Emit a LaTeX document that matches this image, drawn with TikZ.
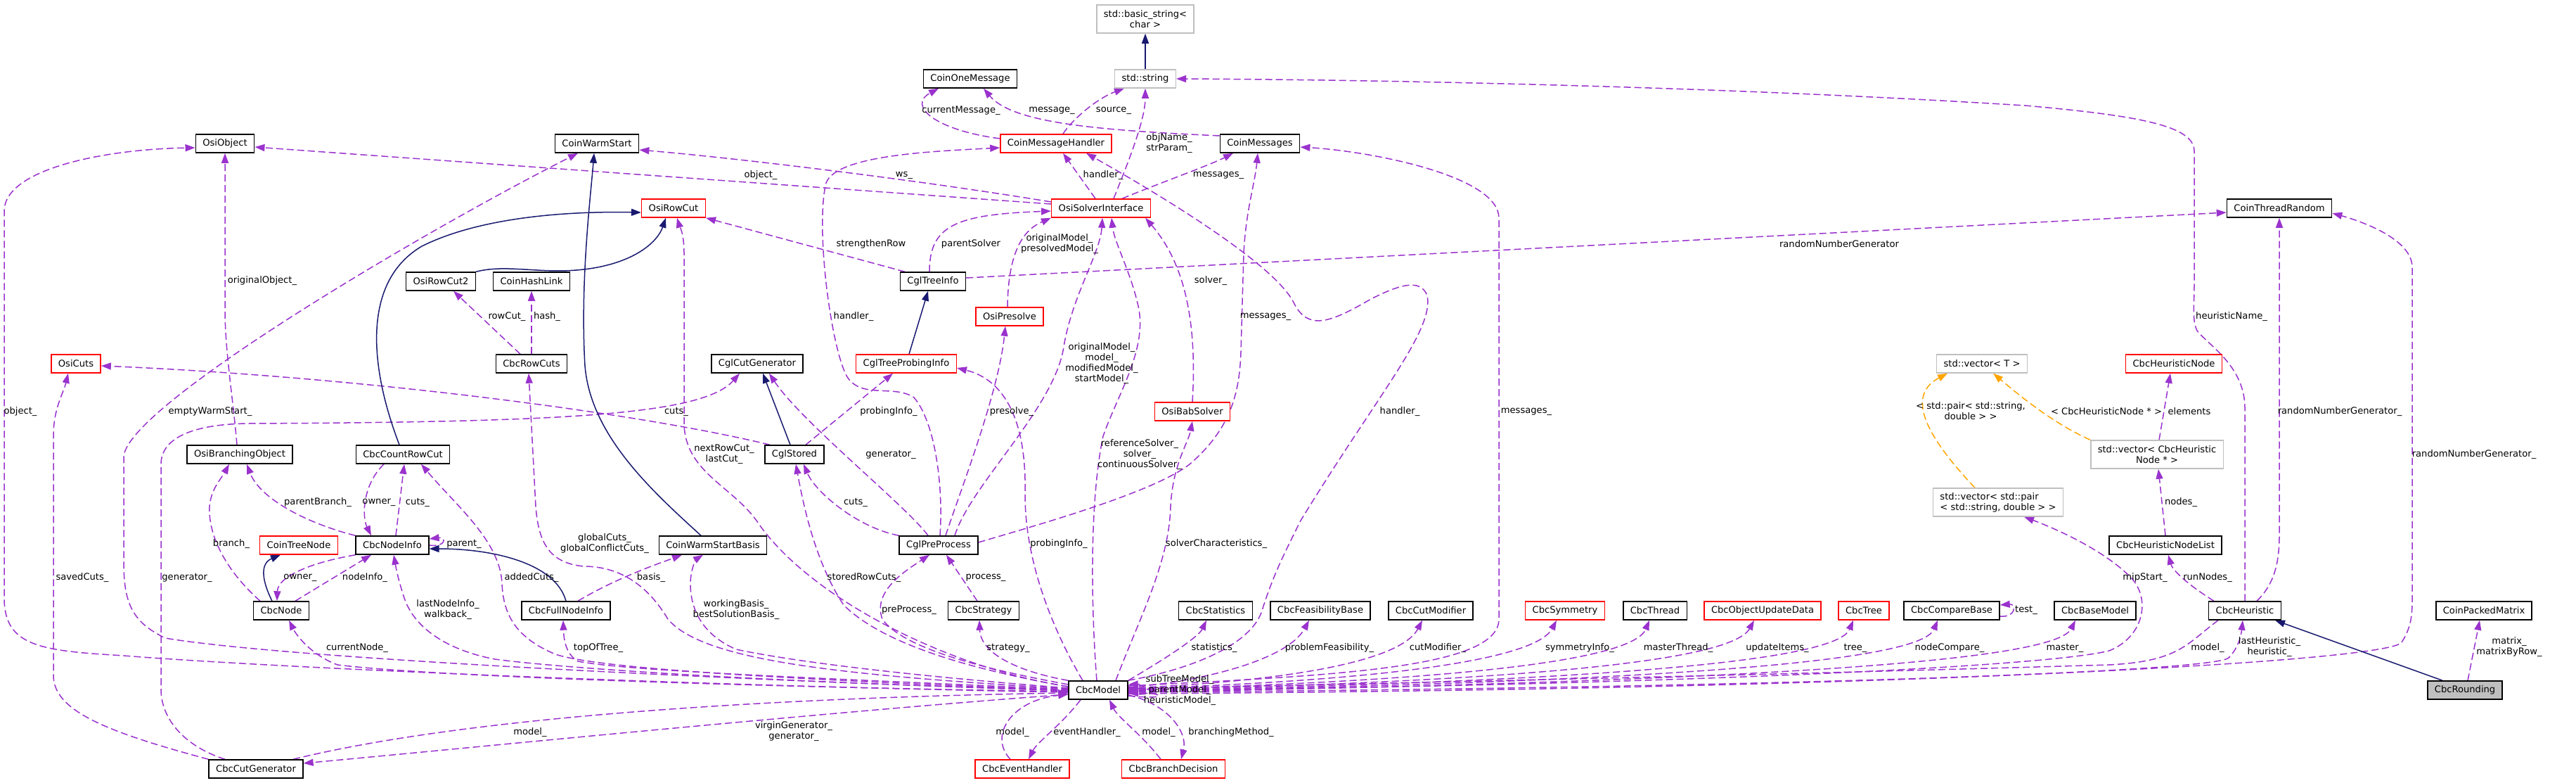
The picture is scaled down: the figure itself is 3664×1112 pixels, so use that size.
\documentclass[tikz,border=0pt]{standalone}
\usepackage{fontspec}
\setmainfont{DejaVu Sans}
\usetikzlibrary{arrows.meta}
\definecolor{purp}{HTML}{9A32CD}
\definecolor{navyb}{HTML}{191970}
\definecolor{orng}{HTML}{FFA500}
\definecolor{grayb}{HTML}{BFBFBF}
\newcommand\dfont{\fontsize{13.1pt}{15pt}\selectfont}
\pgfdeclarelayer{bg}
\pgfsetlayers{bg,main}
\tikzset{
 cbox/.style={draw=black, line width=1.5pt, fill=white, minimum height=26pt, inner xsep=10pt, inner ysep=2pt, font=\dfont},
 rcbox/.style={cbox, draw=red},
 gcbox/.style={cbox, draw=grayb},
 twol/.style={align=center, minimum height=40pt},
 uedge/.style={draw=purp, line width=1.5pt, dash pattern=on 10pt off 5pt, -{Triangle[length=14pt,width=10pt]}},
 iedge/.style={draw=navyb, line width=1.5pt, -{Triangle[length=14pt,width=10pt]}},
 tedge/.style={draw=orng, line width=1.5pt, dash pattern=on 10pt off 5pt, -{Triangle[length=14pt,width=10pt]}},
 lb/.style={font=\dfont, inner sep=0pt, align=center},
}
\begin{document}
\begin{tikzpicture}[x=1pt,y=-1pt]
\useasboundingbox (0,0) rectangle (3664,1112);
% nodes
\node[gcbox,twol] (basicstr) at (1629,27) {std::basic\_string<\\char >};
\node[gcbox] (stdstring) at (1629,112) {std::string};
\node[cbox] (oneMsg) at (1380,112) {CoinOneMessage};
\node[cbox] (osiObject) at (320,204) {OsiObject};
\node[cbox] (warmStart) at (849,204) {CoinWarmStart};
\node[rcbox] (msgHandler) at (1502,204) {CoinMessageHandler};
\node[cbox] (coinMessages) at (1792,204) {CoinMessages};
\node[rcbox] (osiRowCut) at (958,296) {OsiRowCut};
\node[rcbox] (osiSI) at (1566,296) {OsiSolverInterface};
\node[cbox] (threadRandom) at (3242,296) {CoinThreadRandom};
\node[cbox] (osiRowCut2) at (627,400) {OsiRowCut2};
\node[cbox] (hashLink) at (756,400) {CoinHashLink};
\node[cbox] (cglTreeInfo) at (1327,400) {CglTreeInfo};
\node[rcbox] (osiPresolve) at (1436,450) {OsiPresolve};
\node[rcbox] (osiCuts) at (108,517) {OsiCuts};
\node[cbox] (cbcRowCuts) at (756,517) {CbcRowCuts};
\node[cbox] (cglCutGen) at (1077,517) {CglCutGenerator};
\node[rcbox] (cglTPI) at (1289,517) {CglTreeProbingInfo};
\node[gcbox] (vecT) at (2819,517) {std::vector< T >};
\node[rcbox] (heurNode) at (3092,517) {CbcHeuristicNode};
\node[rcbox] (osiBabSolver) at (1696,585) {OsiBabSolver};
\node[cbox] (osiBranchObj) at (341,646) {OsiBranchingObject};
\node[cbox] (countRowCut) at (573,646) {CbcCountRowCut};
\node[cbox] (cglStored) at (1130,646) {CglStored};
\node[gcbox,twol] (vecHN) at (3068,646) {std::vector< CbcHeuristic\\Node * >};
\node[gcbox,twol,align=left] (vecPair) at (2842,714) {std::vector< std::pair\\< std::string, double > >};
\node[rcbox] (coinTreeNode) at (425,775) {CoinTreeNode};
\node[cbox] (cbcNodeInfo) at (558,775) {CbcNodeInfo};
\node[cbox] (warmStartBasis) at (1014,775) {CoinWarmStartBasis};
\node[cbox] (cglPreProcess) at (1335,775) {CglPreProcess};
\node[cbox] (heurNodeList) at (3080,775) {CbcHeuristicNodeList};
\node[cbox] (cbcNode) at (400,868) {CbcNode};
\node[cbox] (fullNodeInfo) at (805,868) {CbcFullNodeInfo};
\node[cbox] (cbcStrategy) at (1399,868) {CbcStrategy};
\node[cbox] (cbcStatistics) at (1729,868) {CbcStatistics};
\node[cbox] (feasBase) at (1878,868) {CbcFeasibilityBase};
\node[cbox] (cutModifier) at (2035,868) {CbcCutModifier};
\node[rcbox] (symmetry) at (2226,868) {CbcSymmetry};
\node[cbox] (thread) at (2354,868) {CbcThread};
\node[rcbox] (objUpd) at (2507,868) {CbcObjectUpdateData};
\node[rcbox] (cbcTree) at (2651,868) {CbcTree};
\node[cbox] (compareBase) at (2776,868) {CbcCompareBase};
\node[cbox] (baseModel) at (2980,868) {CbcBaseModel};
\node[cbox] (cbcHeuristic) at (3193,868) {CbcHeuristic};
\node[cbox] (packedMatrix) at (3533,868) {CoinPackedMatrix};
\node[cbox] (cbcModel) at (1562,981) {CbcModel};
\node[cbox,fill=grayb] (cbcRounding) at (3506,981) {CbcRounding};
\node[cbox] (cutGenerator) at (364,1093) {CbcCutGenerator};
\node[rcbox] (eventHandler) at (1454,1093) {CbcEventHandler};
\node[rcbox] (branchDecision) at (1669,1093) {CbcBranchDecision};
% labels
\node[lb] (l01) at (1367,157) {currentMessage\_};
\node[lb] (l02) at (1496,157) {message\_};
\node[lb] (l03) at (1584,157) {source\_};
\node[lb] (l04) at (1663,204) {objName\_\\strParam\_};
\node[lb] (l05) at (1569,249) {handler\_};
\node[lb] (l06) at (1733,249) {messages\_};
\node[lb] (l07) at (1082,249) {object\_};
\node[lb] (l08) at (1286,249) {ws\_};
\node[lb] (l09) at (1239,347) {strengthenRow};
\node[lb] (l10) at (1381,347) {parentSolver};
\node[lb] (l11) at (1507,347) {originalModel\_\\presolvedModel\_};
\node[lb] (l12) at (2616,347) {randomNumberGenerator};
\node[lb] (l13) at (1722,399) {solver\_};
\node[lb] (l14) at (373,399) {originalObject\_};
\node[lb] (l15) at (721,450) {rowCut\_};
\node[lb] (l16) at (778,450) {hash\_};
\node[lb] (l17) at (1214,450) {handler\_};
\node[lb] (l18) at (1800,450) {messages\_};
\node[lb] (l19) at (3174,450) {heuristicName\_};
\node[lb] (l20) at (1567,517) {originalModel\_\\model\_\\modifiedModel\_\\startModel\_};
\node[lb] (l21) at (29,585) {object\_};
\node[lb] (l22) at (299,585) {emptyWarmStart\_};
\node[lb] (l23) at (962,585) {cuts\_};
\node[lb] (l24) at (1264,585) {probingInfo\_};
\node[lb] (l25) at (1439,585) {presolve\_};
\node[lb] (l26) at (1991,585) {handler\_};
\node[lb] (l27) at (2171,585) {messages\_};
\node[lb] (l28) at (2803,584) {< std::pair< std::string,\\double > >};
\node[lb] (l29) at (2996,585) {< CbcHeuristicNode * >};
\node[lb] (l30) at (3114,585) {elements};
\node[lb] (l31) at (3328,585) {randomNumberGenerator\_};
\node[lb] (l32) at (1030,646) {nextRowCut\_\\lastCut\_};
\node[lb] (l33) at (1267,646) {generator\_};
\node[lb] (l34) at (1621,646) {referenceSolver\_\\solver\_\\continuousSolver\_};
\node[lb] (l35) at (3519,646) {randomNumberGenerator\_};
\node[lb] (l36) at (452,714) {parentBranch\_};
\node[lb] (l37) at (539,714) {owner\_};
\node[lb] (l38) at (594,714) {cuts\_};
\node[lb] (l39) at (1217,714) {cuts\_};
\node[lb] (l40) at (3102,714) {nodes\_};
\node[lb] (l41) at (329,773) {branch\_};
\node[lb] (l42) at (660,773) {parent\_};
\node[lb] (l43) at (860,773) {globalCuts\_\\globalConflictCuts\_};
\node[lb] (l44) at (1506,773) {probingInfo\_};
\node[lb] (l45) at (1730,773) {solverCharacteristics\_};
\node[lb] (l46) at (117,821) {savedCuts\_};
\node[lb] (l47) at (266,821) {generator\_};
\node[lb] (l48) at (427,821) {owner\_};
\node[lb] (l49) at (519,821) {nodeInfo\_};
\node[lb] (l50) at (756,821) {addedCuts\_};
\node[lb] (l51) at (926,821) {basis\_};
\node[lb] (l52) at (1229,821) {storedRowCuts\_};
\node[lb] (l53) at (1402,821) {process\_};
\node[lb] (l54) at (3051,821) {mipStart\_};
\node[lb] (l55) at (3140,821) {runNodes\_};
\node[lb] (l56) at (637,867) {lastNodeInfo\_\\walkback\_};
\node[lb] (l57) at (1047,867) {workingBasis\_\\bestSolutionBasis\_};
\node[lb] (l58) at (1293,867) {preProcess\_};
\node[lb] (l59) at (2882,867) {test\_};
\node[lb] (l60) at (508,921) {currentNode\_};
\node[lb] (l61) at (851,921) {topOfTree\_};
\node[lb] (l62) at (1434,921) {strategy\_};
\node[lb] (l63) at (1727,921) {statistics\_};
\node[lb] (l64) at (1891,921) {problemFeasibility\_};
\node[lb] (l65) at (2045,921) {cutModifier\_};
\node[lb] (l66) at (2247,921) {symmetryInfo\_};
\node[lb] (l67) at (2387,921) {masterThread\_};
\node[lb] (l68) at (2528,921) {updateItems\_};
\node[lb] (l69) at (2639,921) {tree\_};
\node[lb] (l70) at (2773,921) {nodeCompare\_};
\node[lb] (l71) at (2937,921) {master\_};
\node[lb] (l72) at (3140,921) {model\_};
\node[lb] (l73) at (3228,920) {lastHeuristic\_\\heuristic\_};
\node[lb] (l74) at (3569,920) {matrix\_\\matrixByRow\_};
\node[lb] (l75) at (1678,981) {subTreeModel\_\\parentModel\_\\heuristicModel\_};
\node[lb] (l76) at (1129,1040) {virginGenerator\_\\generator\_};
\node[lb] (l77) at (754,1041) {model\_};
\node[lb] (l78) at (1440,1041) {model\_};
\node[lb] (l79) at (1546,1041) {eventHandler\_};
\node[lb] (l80) at (1648,1041) {model\_};
\node[lb] (l81) at (1751,1041) {branchingMethod\_};
% edges
\begin{pgfonlayer}{bg}
\draw[iedge] (stdstring.north) -- (basicstr.south);
\draw[uedge] ([yshift=7pt]msgHandler.west) .. controls (1330,185) and (1290,150) .. ([xshift=-45pt]oneMsg.south);
\draw[uedge] ([yshift=11pt]coinMessages.west) .. controls (1560,185) and (1440,175) .. ([xshift=19pt]oneMsg.south);
\draw[uedge] ([xshift=10pt]msgHandler.north) .. controls (1525,170) and (1560,140) .. ([xshift=-30pt]stdstring.south);
\draw[uedge] ([xshift=18pt]osiSI.north) .. controls (1605,230) and (1629,170) .. (stdstring.south);
\draw[uedge] ([xshift=-8pt]osiSI.north) -- ([xshift=10pt]msgHandler.south);
\draw[uedge] ([xshift=30pt]osiSI.north) .. controls (1650,260) and (1720,235) .. ([xshift=-38pt]coinMessages.south);
\draw[uedge] ([yshift=6pt]osiSI.west) -- ([yshift=-5pt]osiObject.east);
\draw[uedge] ([yshift=9pt]osiSI.west) .. controls (1300,255) and (1050,225) .. ([yshift=-9pt]warmStart.east);
\draw[uedge] ([xshift=-40pt]cglTreeInfo.north) -- (osiRowCut.south east);
\draw[uedge] ([xshift=-5pt]cglTreeInfo.north) .. controls (1322,320) and (1360,305) .. ([yshift=-4pt]osiSI.west);
\draw[uedge] ([xshift=-3pt]osiPresolve.north) .. controls (1434,350) and (1460,325) .. (osiSI.south west);
\draw[uedge] ([xshift=23pt]cglPreProcess.north) .. controls (1380,690) and (1500,580) .. (1513,493) .. controls (1525,420) and (1565,360) .. ([xshift=2pt]osiSI.south);
\draw[uedge] ([xshift=-2pt]cbcModel.north) .. controls (1553,880) and (1548,720) .. (1569,620) .. controls (1590,560) and (1630,500) .. (1620,440) .. controls (1610,390) and (1585,345) .. ([xshift=15pt]osiSI.south);
\draw[uedge] (osiBabSolver.north) .. controls (1702,470) and (1690,380) .. ([xshift=-8pt]osiSI.south east);
\draw[uedge] ([xshift=2pt]cglPreProcess.north) .. controls (1342,690) and (1330,600) .. (1300,565) .. controls (1270,545) and (1220,570) .. (1202,530) .. controls (1180,480) and (1160,320) .. (1175,260) .. controls (1190,220) and (1330,215) .. ([yshift=-6pt]msgHandler.west);
\draw[uedge] ([xshift=16pt]cglStored.north) -- ([xshift=-19pt]cglTPI.south);
\draw[uedge] ([xshift=10pt]cglPreProcess.north) .. controls (1365,700) and (1420,560) .. ([xshift=-6pt]osiPresolve.south);
\draw[uedge] ([xshift=-15pt]cglPreProcess.north) .. controls (1290,720) and (1140,600) .. ([xshift=17pt]cglCutGen.south);
\draw[uedge] (cglPreProcess.north west) .. controls (1220,750) and (1160,700) .. ([xshift=13pt]cglStored.south);
\draw[iedge] ([xshift=4pt]cglTPI.north) -- ([xshift=-7pt]cglTreeInfo.south);
\draw[iedge] ([xshift=-6pt]cglStored.north) -- ([xshift=8pt]cglCutGen.south);
\draw[uedge] ([yshift=5pt]cbcModel.west) .. controls (1350,950) and (1150,850) .. (1076,740) .. controls (1040,690) and (973,670) .. (973,600) -- (973,360) .. controls (973,330) and (966,320) .. ([xshift=5pt]osiRowCut.south);
% CbcModel left side
\draw[uedge] ([yshift=-3pt]cbcModel.west) .. controls (1000,975) and (400,950) .. (176,932) .. controls (60,925) and (6,920) .. (6,850) -- (6,300) .. controls (6,240) and (150,212) .. ([yshift=-6pt]osiObject.west);
\draw[uedge] ([yshift=-1pt]cbcModel.west) .. controls (1000,965) and (400,935) .. (235,907) .. controls (190,885) and (176,860) .. (176,800) -- (176,650) .. controls (176,580) and (600,330) .. ([xshift=-27pt]warmStart.south);
\draw[uedge] ([xshift=-44pt]cutGenerator.north) .. controls (260,1060) and (229,1020) .. (229,980) -- (229,660) .. controls (229,620) and (280,603) .. (352,602) .. controls (800,600) and (1000,590) .. ([xshift=-25pt]cglCutGen.south);
\draw[uedge] (cutGenerator.north west) .. controls (150,1040) and (76,1010) .. (76,960) -- (76,620) .. controls (76,580) and (90,560) .. ([xshift=-11pt]osiCuts.south);
\draw[uedge] ([xshift=-35pt]cglStored.north) .. controls (900,585) and (500,535) .. ([yshift=-3pt]osiCuts.east);
\draw[uedge] ([yshift=2pt]cbcModel.west) .. controls (1200,960) and (1000,940) .. (950,880) .. controls (920,830) and (880,805) .. (830,805) .. controls (780,800) and (766,770) .. (762,720) -- ([xshift=-4pt]cbcRowCuts.south);
\draw[uedge] (cbcModel.west) .. controls (1100,965) and (850,950) .. (790,930) .. controls (730,905) and (716,870) .. (714,830) .. controls (712,770) and (650,720) .. ([xshift=26pt]countRowCut.south);
\draw[uedge] ([yshift=-2pt]cbcModel.west) .. controls (1000,975) and (600,960) .. (480,945) .. controls (440,930) and (420,900) .. ([xshift=11pt]cbcNode.south);
\draw[uedge] (cbcModel.west) .. controls (1100,970) and (800,950) .. (704,937) .. controls (640,925) and (590,895) .. (575,850) .. controls (565,820) and (562,800) .. ([xshift=2pt]cbcNodeInfo.south);
\draw[uedge] ([yshift=1pt]cbcModel.west) .. controls (1200,965) and (900,955) .. (822,940) .. controls (805,930) and (802,910) .. ([xshift=-4pt]fullNodeInfo.south);
\draw[uedge] ([yshift=3pt]cbcModel.west) .. controls (1350,965) and (1150,945) .. (1047,923) .. controls (994,900) and (982,860) .. (982,830) .. controls (982,810) and (990,795) .. ([xshift=-14pt]warmStartBasis.south);
\draw[uedge] ([yshift=5pt]cbcModel.west) .. controls (1400,955) and (1260,920) .. (1200,860) .. controls (1160,800) and (1143,720) .. ([xshift=2pt]cglStored.south);
\draw[uedge] ([yshift=8pt]cbcModel.west) .. controls (1450,960) and (1290,930) .. (1255,880) .. controls (1240,840) and (1290,810) .. ([xshift=-13pt]cglPreProcess.south);
\draw[uedge] (cbcModel.north west) .. controls (1450,955) and (1395,930) .. ([xshift=-6pt]cbcStrategy.south);
\draw[uedge] ([xshift=-9pt]cbcStrategy.north) -- ([xshift=11pt]cglPreProcess.south);
\draw[uedge] ([xshift=-22pt]cbcModel.north) .. controls (1500,900) and (1457,800) .. (1458,700) .. controls (1460,600) and (1430,540) .. ([yshift=-6pt]cglTPI.east);
\draw[uedge] ([xshift=25pt]cbcModel.north) .. controls (1620,880) and (1663,800) .. (1665,720) .. controls (1668,660) and (1690,630) .. (osiBabSolver.south);
\draw[uedge] ([yshift=-6pt]cbcModel.west) .. controls (1200,1010) and (700,1060) .. ([yshift=8pt]cutGenerator.east);
\draw[uedge] ([xshift=53pt]cutGenerator.north) .. controls (700,1010) and (1200,990) .. ([yshift=-4pt]cbcModel.west);
% CbcModel right side
\draw[uedge] (cbcModel.north east) .. controls (1700,950) and (1780,915) .. (1795,868) .. controls (1810,820) and (1825,790) .. (1850,740) .. controls (1960,560) and (2040,470) .. (2030,420) .. controls (2020,395) and (1990,405) .. (1950,425) .. controls (1890,460) and (1860,470) .. (1840,430) .. controls (1810,370) and (1620,260) .. ([xshift=43pt]msgHandler.south);
\draw[uedge] ([yshift=6pt]cbcModel.east) .. controls (1900,960) and (2132,950) .. (2132,880) -- (2132,310) .. controls (2132,250) and (1950,215) .. ([yshift=-5pt]coinMessages.east);
\draw[uedge] ([yshift=4pt]cbcModel.east) .. controls (1700,970) and (1830,940) .. ([xshift=-16pt]feasBase.south);
\draw[uedge] ([yshift=3pt]cbcModel.east) .. controls (1800,970) and (1990,945) .. ([xshift=-12pt]cutModifier.south);
\draw[uedge] ([yshift=2pt]cbcModel.east) .. controls (1900,970) and (2180,945) .. ([xshift=-12pt]symmetry.south);
\draw[uedge] ([yshift=1pt]cbcModel.east) .. controls (2000,970) and (2320,945) .. ([xshift=-8pt]thread.south);
\draw[uedge] (cbcModel.east) .. controls (2100,970) and (2460,945) .. ([xshift=-12pt]objUpd.south);
\draw[uedge] ([yshift=-1pt]cbcModel.east) .. controls (2200,970) and (2610,945) .. ([xshift=-15pt]cbcTree.south);
\draw[uedge] ([yshift=-2pt]cbcModel.east) .. controls (2300,970) and (2730,945) .. ([xshift=-20pt]compareBase.south);
\draw[uedge] ([yshift=-3pt]cbcModel.east) .. controls (2400,970) and (2920,945) .. ([xshift=-28pt]baseModel.south);
\draw[uedge] ([yshift=-1pt]cbcModel.east) .. controls (2300,975) and (2900,950) .. (3000,925) .. controls (3050,905) and (3060,850) .. (3030,820) .. controls (2990,780) and (2920,750) .. ([xshift=37pt]vecPair.south);
\draw[uedge] ([yshift=-3pt]cbcModel.east) .. controls (2500,978) and (3150,955) .. (3170,935) .. controls (3185,920) and (3188,900) .. ([xshift=-3pt]cbcHeuristic.south);
\draw[uedge] ([xshift=-38pt]cbcHeuristic.south) .. controls (3110,915) and (3100,940) .. (3000,945) .. controls (2500,960) and (1800,975) .. ([yshift=2pt]cbcModel.east);
\draw[uedge] ([yshift=-5pt]cbcModel.east) .. controls (2700,980) and (3400,940) .. (3416,913) .. controls (3431,890) and (3431,870) .. (3431,850) -- (3431,380) .. controls (3431,340) and (3360,315) .. ([yshift=-7pt]threadRandom.east);
\draw[uedge] (cbcHeuristic.north) -- (3193,580) .. controls (3193,520) and (3140,490) .. (3125,470) .. controls (3118,455) and (3121,440) .. (3121,400) -- (3121,215) .. controls (3121,180) and (3050,165) .. (2880,150) .. controls (2400,120) and (1900,113) .. (stdstring.east);
\draw[uedge] ([xshift=17pt]cbcHeuristic.north) .. controls (3235,830) and (3242,800) .. (3242,760) -- (threadRandom.south);
\draw[uedge] ([yshift=5pt]cglTreeInfo.east) -- ([yshift=-6pt]threadRandom.west);
\draw[uedge] ([yshift=4pt]cglPreProcess.east) .. controls (1480,745) and (1640,700) .. (1692,660) .. controls (1750,610) and (1763,560) .. (1765,500) -- (1769,360) .. controls (1772,300) and (1785,260) .. ([xshift=-3pt]coinMessages.south);
% self loops on CbcModel
\draw[uedge] ([yshift=-2pt]cbcModel.east) .. controls (1630,985) and (1630,972) .. ([yshift=8pt]cbcModel.east);
\draw[uedge] ([yshift=-5pt]cbcModel.east) .. controls (1645,990) and (1645,978) .. ([yshift=2pt]cbcModel.east);
\draw[uedge] ([yshift=-8pt]cbcModel.east) .. controls (1660,995) and (1660,985) .. ([yshift=-4pt]cbcModel.east);
% bottom
\draw[uedge] ([xshift=-25pt]cbcModel.south) .. controls (1510,1030) and (1475,1055) .. ([xshift=9pt]eventHandler.north);
\draw[uedge] ([xshift=-17pt]eventHandler.north) .. controls (1405,1045) and (1440,995) .. ([yshift=-6pt]cbcModel.west);
\draw[uedge] ([xshift=-18pt]branchDecision.north) .. controls (1625,1045) and (1590,1020) .. ([xshift=16pt]cbcModel.south);
\draw[uedge] ([yshift=-7pt]cbcModel.east) .. controls (1660,1000) and (1690,1040) .. ([xshift=11pt]branchDecision.north);
\draw[uedge] (cbcModel.north east) .. controls (1660,935) and (1705,905) .. ([xshift=-13pt]cbcStatistics.south);
% right lower
\draw[uedge] ([xshift=-44pt]cbcHeuristic.north) .. controls (3110,830) and (3090,810) .. ([xshift=4pt]heurNodeList.south);
\draw[uedge] (heurNodeList.north) -- ([xshift=2pt]vecHN.south);
\draw[uedge] ([xshift=3pt]vecHN.north) -- ([xshift=-5pt]heurNode.south);
\draw[tedge] (vecHN.north west) .. controls (2917,600) and (2870,560) .. ([xshift=16pt]vecT.south);
\draw[tedge] ([xshift=-33pt]vecPair.north) .. controls (2730,610) and (2715,560) .. ([xshift=-49pt]vecT.south);
\draw[iedge] ([xshift=-32pt]cbcRounding.north) -- ([xshift=43pt]cbcHeuristic.south);
\draw[uedge] ([xshift=4pt]cbcRounding.north) -- ([xshift=-6pt]packedMatrix.south);
\draw[uedge] ([yshift=-8pt]compareBase.east) .. controls (2868,878) and (2868,858) .. ([yshift=8pt]compareBase.east);
% left lower
\draw[uedge] ([xshift=-4pt]osiBranchObj.north) .. controls (332,570) and (320,500) .. (320,440) -- (osiObject.south);
\draw[uedge] ([xshift=-30pt]cbcNode.north) .. controls (320,810) and (296,760) .. (298,720) .. controls (300,695) and (315,680) .. ([xshift=-15pt]osiBranchObj.south);
\draw[uedge] (cbcNodeInfo.north west) .. controls (440,745) and (370,710) .. ([xshift=10pt]osiBranchObj.south);
\draw[uedge] ([xshift=-27pt]countRowCut.south) .. controls (515,690) and (515,735) .. ([xshift=-30pt]cbcNodeInfo.north);
\draw[uedge] ([xshift=5pt]cbcNodeInfo.north) -- ([xshift=2pt]countRowCut.south);
\draw[iedge] ([xshift=-5pt]countRowCut.north) .. controls (525,520) and (515,400) .. (600,350) .. controls (680,310) and (800,300) .. ([yshift=-6pt]osiRowCut.west);
\draw[iedge] (osiRowCut2.north east) .. controls (720,375) and (770,390) .. (830,383) .. controls (900,375) and (935,345) .. ([xshift=-11pt]osiRowCut.south);
\draw[uedge] ([xshift=-16pt]cbcRowCuts.north) -- ([xshift=18pt]osiRowCut2.south);
\draw[uedge] (cbcRowCuts.north) -- (hashLink.south);
\draw[iedge] ([xshift=-17pt]warmStartBasis.north) .. controls (930,700) and (840,620) .. (832,520) .. controls (825,400) and (840,280) .. ([xshift=-4pt]warmStart.south);
\draw[iedge] (fullNodeInfo.north) .. controls (790,800) and (700,780) .. ([yshift=-5pt]cbcNodeInfo.east);
\draw[uedge] ([yshift=0pt]cbcNodeInfo.east) .. controls (635,778) and (635,763) .. ([yshift=9pt]cbcNodeInfo.east);
\draw[iedge] ([xshift=-13pt]cbcNode.north) .. controls (370,820) and (372,800) .. ([xshift=-26pt]coinTreeNode.south);
\draw[uedge] (cbcNodeInfo.south west) .. controls (440,800) and (395,820) .. ([xshift=-6pt]cbcNode.north);
\draw[uedge] ([xshift=20pt]cbcNode.north) -- ([xshift=-30pt]cbcNodeInfo.south);
\draw[uedge] ([xshift=17pt]fullNodeInfo.north) .. controls (880,820) and (940,800) .. ([xshift=-44pt]warmStartBasis.south);
\end{pgfonlayer}
\end{tikzpicture}
\end{document}
